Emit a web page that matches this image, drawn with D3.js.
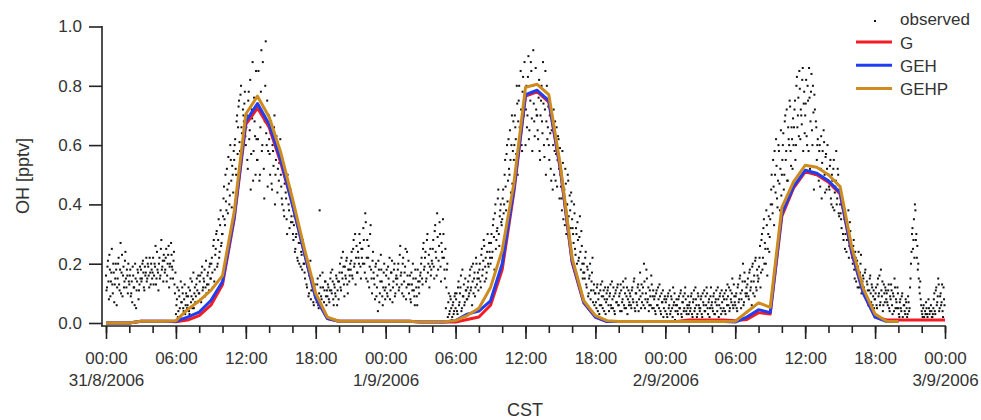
<!DOCTYPE html>
<html>
<head>
<meta charset="utf-8">
<script src="https://cdn.jsdelivr.net/npm/d3@7"></script>
<style>
body { margin: 0; background: #fff; }
svg { display: block; font-family: "Liberation Sans", Arial, sans-serif; }
</style>
</head>
<body>
<svg id="chart" width="981" height="420"></svg>
<script>
var width = 981, height = 420;

var start = new Date(Date.UTC(2006, 7, 31, 0, 0));
var end = new Date(Date.UTC(2006, 8, 3, 0, 0));

// model runs, one value per hour from 31/8/2006 00:00
var G = [0,0,0,.006,.006,.006,.004,.01,.025,.06,.13,.35,.67,.725,.66,.54,.4,.24,.085,.015,
  .006,.006,.006,.006,.006,.006,.006,.003,.003,.003,.003,.012,.02,.06,.18,.44,.765,.78,.745,.515,
  .205,.068,.02,.005,.005,.005,.005,.005,.005,.005,.01,.01,.01,.01,.008,.012,.035,.03,.36,.455,
  .51,.5,.475,.435,.235,.1,.02,.01,.01,.01,.01,.01,.01];
var GEH = [0,0,0,.006,.006,.006,.006,.02,.037,.076,.14,.357,.68,.74,.67,.55,.4,.24,.085,.015,
  .006,.006,.006,.006,.006,.006,.006,.003,.003,.003,.008,.03,.04,.075,.2,.45,.77,.785,.75,.52,
  .21,.07,.02,.005,.005,.005,.005,.005,.005,.005,.005,.005,.005,.005,.003,.02,.045,.035,.37,.46,
  .515,.505,.48,.44,.24,.1,.02,.005,.005];
var GEHP = [0,0,0,.006,.006,.006,.008,.045,.075,.11,.16,.375,.705,.765,.695,.575,.42,.255,.1,.02,
  .006,.006,.006,.006,.006,.006,.006,.003,.003,.004,.008,.025,.05,.12,.245,.47,.795,.805,.77,.53,
  .22,.075,.025,.008,.005,.005,.005,.005,.005,.005,.005,.005,.005,.005,.006,.037,.068,.053,.39,.476,
  .532,.525,.5,.46,.256,.115,.03,.006,.005];

// observed OH, every 5 minutes from 00:00, one row per hour
var observed = [
  [.16,.12,.21,.08,.18,.14,.25,.1,.17,.13,.2,.06],
  [.15,.22,.11,.27,.17,.09,.19,.14,.24,.12,.16,.2],
  [.13,.18,.1,.07,.16,.12,.2,.05,.14,.17,.11,.19],
  [.18,.15,.21,.12,.19,.17,.14,.2,.16,.22,.13,.18],
  [.17,.13,.2,.26,.15,.18,.11,.22,.16,.28,.19,.14],
  [.21,.18,.25,.16,.23,.12,.2,.27,.19,.15,.24,.1],
  [.03,.08,.02,.11,.05,.14,.07,.1,.04,.13,.06,.09],
  [.06,.12,.03,.15,.09,.05,.17,.1,.07,.13,.11,.16],
  [.1,.16,.07,.19,.12,.14,.09,.21,.13,.17,.11,.2],
  [.15,.22,.12,.28,.18,.25,.31,.2,.35,.24,.38,.27],
  [.3,.42,.35,.5,.38,.45,.56,.4,.6,.48,.53,.44],
  [.55,.62,.5,.7,.66,.75,.58,.8,.64,.72,.68,.78],
  [.6,.7,.52,.78,.65,.45,.72,.88,.58,.68,.5,.62],
  [.55,.85,.48,.66,.92,.6,.7,.42,.8,.64,.75,.58],
  [.62,.5,.68,.45,.58,.66,.4,.55,.6,.52,.48,.56],
  [.5,.42,.55,.38,.47,.44,.35,.5,.4,.32,.45,.36],
  [.34,.28,.36,.25,.3,.22,.32,.2,.27,.24,.18,.26],
  [.2,.15,.23,.12,.18,.1,.16,.08,.14,.11,.06,.13],
  [.1,.07,.15,.05,.38,.12,.08,.17,.04,.11,.14,.06],
  [.09,.12,.07,.15,.11,.18,.08,.13,.1,.16,.06,.14],
  [.14,.2,.11,.17,.24,.13,.19,.15,.22,.1,.18,.16],
  [.18,.24,.15,.28,.2,.13,.26,.17,.22,.3,.19,.25],
  [.25,.32,.2,.37,.15,.28,.22,.12,.3,.18,.1,.24],
  [.15,.08,.2,.12,.04,.18,.1,.23,.14,.06,.17,.11],
  [.12,.18,.09,.15,.22,.11,.17,.07,.14,.2,.1,.16],
  [.15,.2,.12,.26,.17,.1,.22,.14,.19,.08,.24,.13],
  [.1,.16,.07,.13,.2,.11,.06,.15,.09,.18,.12,.14],
  [.17,.22,.13,.27,.19,.24,.15,.3,.2,.12,.25,.18],
  [.2,.28,.15,.33,.22,.37,.18,.26,.3,.14,.24,.35],
  [.22,.15,.05,.18,.02,.1,.04,.08,.01,.06,.03,.09],
  [.05,.1,.03,.14,.07,.12,.04,.18,.09,.06,.15,.11],
  [.08,.14,.1,.18,.12,.06,.2,.15,.09,.22,.13,.17],
  [.15,.2,.12,.25,.18,.28,.14,.22,.17,.3,.19,.24],
  [.2,.3,.24,.35,.18,.4,.28,.32,.45,.26,.38,.34],
  [.35,.45,.4,.55,.38,.6,.48,.52,.65,.44,.7,.58],
  [.55,.7,.62,.8,.5,.75,.66,.85,.6,.78,.72,.88],
  [.6,.8,.7,.9,.65,.75,.85,.58,.92,.68,.78,.72],
  [.7,.62,.82,.55,.75,.68,.88,.6,.72,.5,.8,.66],
  [.6,.7,.52,.65,.45,.72,.58,.48,.66,.55,.62,.42],
  [.5,.42,.58,.35,.45,.52,.3,.4,.48,.28,.38,.44],
  [.35,.3,.4,.25,.32,.2,.28,.22,.36,.18,.26,.15],
  [.2,.15,.24,.12,.18,.1,.16,.08,.14,.22,.11,.06],
  [.1,.05,.13,.08,.03,.11,.06,.14,.09,.04,.12,.07],
  [.08,.12,.04,.1,.06,.14,.05,.09,.03,.11,.07,.13],
  [.06,.1,.13,.04,.08,.12,.05,.15,.09,.03,.11,.07],
  [.09,.05,.12,.07,.15,.04,.1,.06,.13,.08,.17,.05],
  [.07,.12,.2,.05,.1,.15,.08,.04,.11,.06,.13,.09],
  [.05,.09,.03,.11,.06,.08,.13,.04,.1,.07,.02,.08],
  [.04,.08,.02,.1,.06,.03,.09,.05,.12,.07,.01,.06],
  [.06,.03,.09,.05,.11,.02,.07,.04,.1,.08,.03,.05],
  [.03,.07,.05,.1,.02,.08,.04,.12,.06,.03,.09,.05],
  [.05,.09,.02,.07,.11,.04,.06,.1,.03,.08,.05,.12],
  [.07,.04,.1,.03,.08,.06,.12,.02,.09,.05,.11,.04],
  [.05,.1,.03,.08,.13,.06,.04,.11,.07,.15,.05,.09],
  [.06,.1,.04,.13,.08,.16,.05,.11,.2,.07,.14,.09],
  [.1,.15,.08,.18,.12,.06,.2,.14,.09,.22,.11,.16],
  [.15,.22,.12,.28,.18,.32,.2,.25,.38,.16,.3,.24],
  [.35,.45,.4,.55,.33,.5,.62,.42,.48,.58,.38,.65],
  [.5,.6,.45,.68,.55,.72,.48,.62,.75,.58,.66,.52],
  [.6,.72,.55,.8,.66,.76,.85,.62,.7,.82,.58,.78],
  [.7,.82,.6,.75,.86,.52,.78,.65,.8,.45,.72,.68],
  [.55,.62,.48,.6,.52,.42,.58,.65,.5,.56,.45,.6],
  [.5,.45,.55,.4,.48,.52,.38,.46,.58,.42,.5,.36],
  [.4,.35,.42,.3,.38,.25,.36,.28,.32,.22,.34,.27],
  [.25,.2,.28,.15,.22,.18,.12,.24,.16,.2,.1,.14],
  [.15,.1,.18,.08,.13,.06,.11,.16,.07,.12,.09,.05],
  [.08,.12,.05,.15,.1,.06,.18,.09,.04,.13,.07,.11],
  [.1,.06,.13,.04,.08,.11,.03,.09,.15,.05,.07,.12],
  [.05,.02,.08,.04,.1,.01,.06,.03,.07,.02,.09,.04],
  [.12,.2,.3,.25,.35,.4,.28,.22,.18,.15,.1,.08],
  [.04,.02,.06,.01,.03,.05,.02,.08,.03,.01,.04,.02],
  [.05,.1,.03,.12,.07,.15,.04,.09,.06,.13,.02,.08]
];

// observed OH, every 5 minutes from 00:02:30, one row per hour
var observedB = [
  [.11,.19,.14,.23,.09,.17,.13,.2,.07,.15,.18,.12],
  [.2,.13,.18,.1,.23,.16,.12,.21,.15,.18,.1,.14],
  [.16,.09,.14,.19,.12,.06,.15,.11,.18,.08,.13,.15],
  [.14,.2,.17,.11,.16,.22,.15,.19,.12,.17,.2,.15],
  [.22,.16,.19,.13,.24,.17,.2,.15,.25,.18,.21,.23],
  [.17,.22,.14,.2,.26,.19,.15,.23,.18,.21,.13,.17],
  [.06,.12,.04,.09,.02,.07,.12,.05,.08,.03,.1,.05],
  [.09,.04,.11,.07,.14,.08,.05,.12,.09,.15,.07,.1],
  [.14,.08,.17,.11,.15,.18,.12,.1,.16,.13,.19,.15],
  [.2,.17,.26,.14,.23,.3,.19,.28,.22,.33,.26,.3],
  [.36,.46,.33,.41,.52,.37,.47,.43,.55,.39,.5,.58],
  [.6,.52,.68,.57,.73,.61,.77,.66,.59,.7,.74,.63],
  [.66,.55,.75,.62,.82,.57,.69,.48,.76,.63,.85,.55],
  [.62,.72,.5,.78,.58,.88,.52,.68,.95,.6,.46,.7],
  [.57,.64,.47,.6,.53,.7,.5,.63,.44,.58,.54,.62],
  [.46,.4,.52,.36,.49,.42,.3,.46,.38,.43,.34,.4],
  [.3,.33,.24,.29,.36,.21,.27,.31,.19,.23,.28,.2],
  [.17,.22,.13,.19,.09,.16,.21,.11,.15,.07,.12,.09],
  [.08,.13,.06,.1,.16,.09,.05,.12,.07,.14,.09,.11],
  [.13,.08,.11,.17,.1,.14,.06,.12,.09,.15,.11,.08],
  [.17,.12,.22,.15,.19,.09,.16,.21,.13,.18,.14,.2],
  [.21,.16,.25,.19,.3,.22,.17,.24,.2,.27,.15,.22],
  [.2,.28,.17,.34,.22,.14,.26,.19,.33,.15,.21,.17],
  [.13,.19,.09,.16,.21,.07,.14,.18,.09,.12,.2,.08],
  [.16,.1,.19,.13,.08,.17,.21,.12,.18,.09,.15,.13],
  [.18,.11,.23,.16,.13,.2,.09,.17,.25,.12,.16,.21],
  [.13,.08,.17,.11,.15,.09,.18,.12,.06,.14,.1,.16],
  [.2,.15,.25,.18,.22,.14,.28,.17,.23,.19,.16,.21],
  [.25,.19,.31,.24,.16,.29,.21,.34,.19,.27,.22,.3],
  [.18,.25,.12,.2,.07,.03,.09,.05,.02,.07,.04,.1],
  [.08,.04,.12,.06,.1,.16,.05,.09,.13,.07,.11,.08],
  [.12,.09,.16,.11,.19,.14,.1,.17,.12,.2,.15,.11],
  [.18,.14,.23,.16,.21,.26,.19,.15,.24,.2,.27,.22],
  [.27,.22,.33,.29,.37,.25,.31,.42,.3,.36,.4,.33],
  [.42,.37,.5,.46,.57,.41,.62,.5,.55,.6,.47,.68],
  [.6,.66,.57,.74,.68,.8,.63,.72,.58,.83,.7,.76],
  [.72,.66,.83,.62,.77,.88,.69,.8,.74,.63,.86,.7],
  [.65,.76,.58,.7,.8,.64,.74,.56,.85,.68,.62,.73],
  [.55,.64,.48,.7,.6,.5,.68,.57,.46,.63,.52,.59],
  [.46,.38,.54,.42,.33,.47,.4,.5,.36,.43,.32,.41],
  [.32,.27,.37,.23,.3,.34,.21,.29,.24,.31,.2,.17],
  [.17,.22,.13,.19,.09,.15,.2,.11,.17,.07,.13,.1],
  [.07,.12,.04,.1,.06,.13,.09,.05,.11,.08,.03,.1],
  [.11,.06,.09,.13,.05,.08,.12,.04,.1,.07,.12,.06],
  [.09,.04,.11,.07,.14,.06,.1,.05,.12,.08,.06,.1],
  [.06,.11,.08,.14,.05,.1,.07,.12,.04,.11,.09,.13],
  [.1,.06,.14,.08,.18,.07,.12,.06,.09,.16,.05,.11],
  [.08,.04,.1,.06,.12,.05,.09,.03,.07,.11,.05,.09],
  [.07,.03,.09,.05,.11,.04,.08,.02,.06,.1,.04,.08],
  [.04,.08,.05,.1,.03,.07,.09,.05,.12,.04,.06,.09],
  [.06,.04,.09,.03,.07,.11,.05,.08,.02,.1,.06,.04],
  [.08,.03,.1,.06,.04,.09,.12,.05,.07,.02,.09,.06],
  [.05,.09,.03,.07,.11,.04,.08,.06,.1,.03,.07,.09],
  [.08,.04,.11,.06,.09,.12,.05,.08,.1,.06,.13,.07],
  [.09,.05,.12,.07,.15,.1,.08,.14,.06,.17,.1,.12],
  [.13,.09,.17,.11,.14,.19,.1,.16,.21,.12,.18,.14],
  [.19,.26,.17,.3,.22,.35,.27,.2,.33,.25,.36,.29],
  [.4,.5,.37,.46,.58,.44,.53,.39,.6,.47,.52,.43],
  [.55,.64,.5,.7,.58,.48,.66,.6,.73,.53,.62,.69],
  [.66,.75,.6,.83,.7,.63,.79,.72,.67,.86,.74,.64],
  [.74,.63,.8,.58,.76,.68,.84,.6,.71,.77,.5,.66],
  [.6,.5,.58,.46,.63,.54,.49,.61,.44,.57,.52,.48],
  [.46,.53,.42,.5,.39,.55,.44,.48,.4,.52,.37,.45],
  [.37,.32,.4,.28,.35,.3,.24,.33,.38,.26,.31,.24],
  [.22,.26,.18,.24,.14,.21,.19,.12,.17,.23,.13,.16],
  [.12,.17,.09,.14,.11,.07,.15,.1,.13,.06,.11,.08],
  [.1,.06,.13,.09,.16,.07,.11,.14,.06,.1,.12,.08],
  [.07,.11,.05,.09,.13,.06,.1,.04,.12,.08,.05,.1],
  [.03,.07,.05,.09,.02,.06,.04,.08,.05,.03,.07,.05],
  [.15,.24,.32,.28,.22,.38,.3,.26,.2,.12,.14,.06],
  [.03,.05,.02,.04,.07,.03,.01,.05,.04,.06,.02,.03],
  [.08,.04,.11,.06,.09,.13,.05,.1,.07,.04,.12,.06]
];

var yTicks = [0, 0.2, 0.4, 0.6, 0.8, 1.0];
var seriesNames = ["G", "GEH", "GEHP"];
var seriesColors = ["#f41b22", "#1f3ef2", "#cf8c1e"];
var seriesData = [G, GEH, GEHP];

var svg = d3.select("#chart");

var x = d3.scaleUtc().domain([start, end]).range([106, 945]);
var y = d3.scaleLinear().domain([0, 1]).range([323, 26.5]);

function hourTime(i) { return d3.utcHour.offset(start, i); }
function secondTime(s) { return d3.utcSecond.offset(start, s); }

// axis frame
svg.append("line").attr("x1", 102).attr("x2", 102).attr("y1", 26).attr("y2", 326.5)
  .attr("stroke", "#222").attr("stroke-width", 1.6);
svg.append("line").attr("x1", 101.2).attr("x2", 946).attr("y1", 326).attr("y2", 326)
  .attr("stroke", "#222").attr("stroke-width", 1.6);

// y axis
var yAxis = svg.append("g").attr("transform", "translate(102,0)")
  .call(d3.axisLeft(y).tickValues(yTicks).tickFormat(d3.format(".1f")).tickSize(13).tickSizeOuter(0).tickPadding(7));
yAxis.select(".domain").remove();
yAxis.selectAll("line").attr("stroke", "#222").attr("stroke-width", 1.6);
yAxis.selectAll("text").attr("fill", "#333").style("font-size", "17px");

// x axis, minor ticks every 2 hours
var xMinor = svg.append("g").attr("transform", "translate(0,326)")
  .call(d3.axisBottom(x).ticks(d3.utcHour.every(2)).tickSize(7).tickSizeOuter(0).tickFormat(""));
xMinor.select(".domain").remove();
xMinor.selectAll("line").attr("stroke", "#222").attr("stroke-width", 1.6);

// major ticks every 6 hours
var xAxis = svg.append("g").attr("transform", "translate(0,326)")
  .call(d3.axisBottom(x).ticks(d3.utcHour.every(6)).tickSize(13).tickSizeOuter(0)
    .tickPadding(13).tickFormat(d3.utcFormat("%H:%M")));
xAxis.select(".domain").remove();
xAxis.selectAll("line").attr("stroke", "#222").attr("stroke-width", 1.6);
xAxis.selectAll("text").attr("fill", "#333").style("font-size", "17px");

// date under each midnight
xAxis.selectAll(".tick").each(function(d) {
  if (d.getUTCHours() === 0) {
    d3.select(this).append("text")
      .attr("y", 60)
      .attr("fill", "#333")
      .style("font-size", "17px")
      .attr("text-anchor", "middle")
      .text(d.getUTCDate() + "/" + (d.getUTCMonth() + 1) + "/" + d.getUTCFullYear());
  }
});

// axis titles
svg.append("text").attr("x", 525).attr("y", 416).attr("text-anchor", "middle")
  .attr("fill", "#333").style("font-size", "18px").text("CST");
svg.append("text").attr("transform", "translate(29,176) rotate(-90)").attr("text-anchor", "middle")
  .attr("fill", "#333").style("font-size", "18px").text("OH [pptv]");

// observed points
var obsFlat = [];
observed.forEach(function(row, h) {
  row.forEach(function(v, k) { obsFlat.push({ t: secondTime(h * 3600 + k * 300), v: v }); });
});
observedB.forEach(function(row, h) {
  row.forEach(function(v, k) { obsFlat.push({ t: secondTime(h * 3600 + k * 300 + 150), v: v }); });
});
svg.append("g").selectAll("rect")
  .data(obsFlat)
  .enter()
  .append("rect")
  .attr("x", function(d) { return x(d.t) - 1; })
  .attr("y", function(d) { return y(d.v) - 1; })
  .attr("width", 2)
  .attr("height", 2)
  .attr("fill", "#111");

// model lines
var line = d3.line()
  .x(function(d, i) { return x(hourTime(i)); })
  .y(function(d) { return y(d); });

seriesData.forEach(function(s, i) {
  svg.append("path")
    .datum(s)
    .attr("d", line)
    .attr("fill", "none")
    .attr("stroke", seriesColors[i])
    .attr("stroke-width", 3)
    .attr("stroke-linejoin", "round");
});

// legend
var legend = svg.append("g").style("font-size", "17px");
legend.append("rect").attr("x", 874).attr("y", 20).attr("width", 2).attr("height", 2).attr("fill", "#111");
legend.append("text").attr("x", 900).attr("y", 25).attr("fill", "#333").text("observed");
seriesNames.forEach(function(name, i) {
  var ly = 48.5 + i * 23.3;
  legend.append("line").attr("x1", 856).attr("x2", 892).attr("y1", ly - 6.5).attr("y2", ly - 6.5)
    .attr("stroke", seriesColors[i]).attr("stroke-width", 3);
  legend.append("text").attr("x", 900).attr("y", ly).attr("fill", "#333").text(name);
});
</script>
</body>
</html>
